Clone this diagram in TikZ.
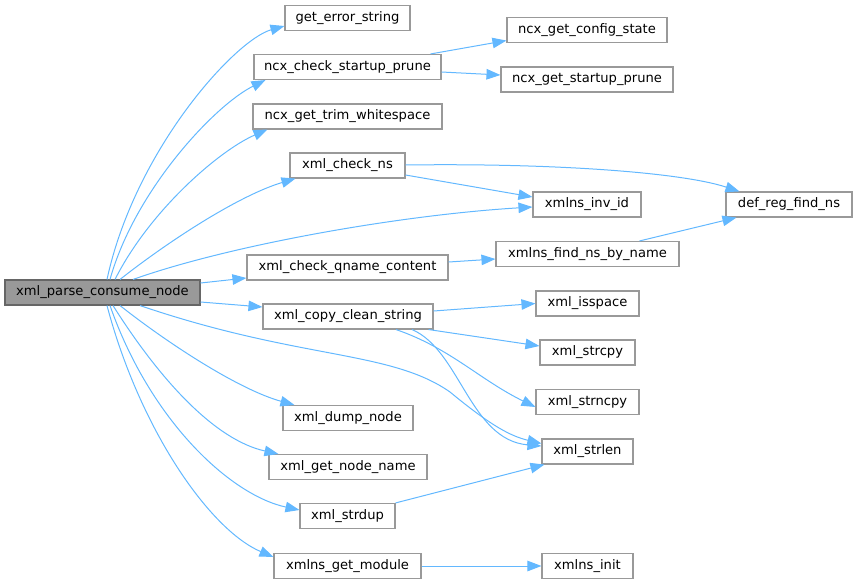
\documentclass[tikz,border=0pt]{standalone}
\usepackage{fontspec}
\setmainfont{DejaVu Sans}
\usetikzlibrary{arrows.meta}
\definecolor{EdgeBlue}{HTML}{63B8FF}
\definecolor{BoxGray}{HTML}{999999}
\definecolor{RootGray}{HTML}{666666}
\begin{document}
\begin{tikzpicture}[x=1pt, y=-1pt]
                \tikzset{FuncStyle/.style={draw=BoxGray, fill=white, line width=1.1pt, minimum height=25pt, inner sep=0pt, font=\fontsize{13.1}{15}\selectfont},
                         RootStyle/.style={FuncStyle, draw=RootGray, fill=BoxGray},
                         CallStyle/.style={draw=EdgeBlue, line width=1pt, -{Triangle[length=14pt, width=10.5pt]}}}
                \useasboundingbox (0,0) rectangle (857,584);
                \node[RootStyle, minimum width=195pt] (Consume)  at (102.5,292.5) {xml\_parse\_consume\_node};
                \node[FuncStyle, minimum width=125pt] (GetErr)   at (347.5,18)    {get\_error\_string};
                \node[FuncStyle, minimum width=187pt] (ChkPrune) at (347.5,67)    {ncx\_check\_startup\_prune};
                \node[FuncStyle, minimum width=189pt] (TrimWs)   at (347.5,116.5) {ncx\_get\_trim\_whitespace};
                \node[FuncStyle, minimum width=115pt] (ChkNs)    at (347.5,165.5) {xml\_check\_ns};
                \node[FuncStyle, minimum width=201pt] (QName)    at (347.5,267.5) {xml\_check\_qname\_content};
                \node[FuncStyle, minimum width=170pt] (CopyStr)  at (348,316.5)   {xml\_copy\_clean\_string};
                \node[FuncStyle, minimum width=130pt] (DumpNode) at (348,418)     {xml\_dump\_node};
                \node[FuncStyle, minimum width=158pt] (NodeName) at (348,467)     {xml\_get\_node\_name};
                \node[FuncStyle, minimum width=95pt]  (StrDup)   at (347.5,516)   {xml\_strdup};
                \node[FuncStyle, minimum width=147pt] (GetMod)   at (347.5,566)   {xmlns\_get\_module};
                \node[FuncStyle, minimum width=160pt] (CfgState) at (587,30)      {ncx\_get\_config\_state};
                \node[FuncStyle, minimum width=172pt] (GetPrune) at (587,79.5)    {ncx\_get\_startup\_prune};
                \node[FuncStyle, minimum width=108pt] (InvId)    at (587,204.5)   {xmlns\_inv\_id};
                \node[FuncStyle, minimum width=183pt] (FindNs)   at (587.5,254)   {xmlns\_find\_ns\_by\_name};
                \node[FuncStyle, minimum width=103pt] (IsSpace)  at (587.5,303.5) {xml\_isspace};
                \node[FuncStyle, minimum width=95pt]  (StrCpy)   at (587.5,352.5) {xml\_strcpy};
                \node[FuncStyle, minimum width=103pt] (StrNCpy)  at (587.5,402)   {xml\_strncpy};
                \node[FuncStyle, minimum width=91pt]  (StrLen)   at (587.5,451.5) {xml\_strlen};
                \node[FuncStyle, minimum width=91pt]  (NsInit)   at (587.5,566)   {xmlns\_init};
                \node[FuncStyle, minimum width=126pt] (DefReg)   at (789,204.5)   {def\_reg\_find\_ns};
                % calls from the root
                \draw[CallStyle] ([xshift=4.5pt]Consume.north) .. controls (135,150) and (235,40) .. ([yshift=-8pt]GetErr.west);
                \draw[CallStyle] ([xshift=7.5pt]Consume.north) .. controls (135,190) and (215,105) .. ([xshift=12pt]ChkPrune.south west);
                \draw[CallStyle] ([xshift=12.5pt]Consume.north) .. controls (150,210) and (220,150) .. ([xshift=15pt]TrimWs.south west);
                \draw[CallStyle] ([xshift=17.5pt]Consume.north) .. controls (170,240) and (240,195) .. ([xshift=6pt]ChkNs.south west);
                \draw[CallStyle] ([xshift=30.5pt]Consume.north) .. controls (230,245) and (400,215) .. ([yshift=-2.5pt]InvId.west);
                \draw[CallStyle] ([yshift=9.5pt]Consume.east) -- ([yshift=-10.5pt]QName.west);
                \draw[CallStyle] ([yshift=-9.5pt]Consume.east) -- ([yshift=9.5pt]CopyStr.west);
                \draw[CallStyle] ([xshift=37.5pt]Consume.south) .. controls (300,360) and (390,350) .. (450,392) .. controls (490,425) and (510,436) .. ([yshift=8pt]StrLen.west);
                \draw[CallStyle] ([xshift=17.5pt]Consume.south) .. controls (170,345) and (240,390) .. ([xshift=12pt]DumpNode.north west);
                \draw[CallStyle] ([xshift=10.5pt]Consume.south) .. controls (160,380) and (215,440) .. ([xshift=10pt]NodeName.north west);
                \draw[CallStyle] ([xshift=7.5pt]Consume.south) .. controls (150,420) and (230,495) .. ([yshift=6pt]StrDup.west);
                \draw[CallStyle] ([xshift=4.5pt]Consume.south) .. controls (140,430) and (210,530) .. ([yshift=9pt]GetMod.west);
                % second level
                \draw[CallStyle] ([xshift=-11pt]ChkPrune.north east) -- ([yshift=2.5pt]CfgState.south west);
                \draw[CallStyle] ([yshift=-5pt]ChkPrune.east) -- ([yshift=4.5pt]GetPrune.west);
                \draw[CallStyle] ([yshift=0.5pt]ChkNs.east) .. controls (550,163) and (680,172) .. ([xshift=14pt]DefReg.north west);
                \draw[CallStyle] ([yshift=-9.5pt]ChkNs.east) -- ([yshift=7.5pt]InvId.west);
                \draw[CallStyle] ([yshift=5.5pt]QName.east) -- ([yshift=-5pt]FindNs.west);
                \draw[CallStyle] ([xshift=52pt]FindNs.north) -- ([xshift=11pt]DefReg.south west);
                \draw[CallStyle] ([yshift=5.5pt]CopyStr.east) -- (IsSpace.west);
                \draw[CallStyle] ([xshift=-5pt]CopyStr.south east) -- ([yshift=6.5pt]StrCpy.west);
                \draw[CallStyle] ([xshift=48pt]CopyStr.south) .. controls (450,348) and (480,380) .. ([yshift=-5pt]StrNCpy.west);
                \draw[CallStyle] ([xshift=64pt]CopyStr.south) .. controls (460,350) and (470,440) .. ([yshift=5.5pt]StrLen.west);
                \draw[CallStyle] (StrDup.north east) -- ([xshift=3pt]StrLen.south west);
                \draw[CallStyle] (GetMod.east) -- (NsInit.west);
            \end{tikzpicture}
\end{document}
